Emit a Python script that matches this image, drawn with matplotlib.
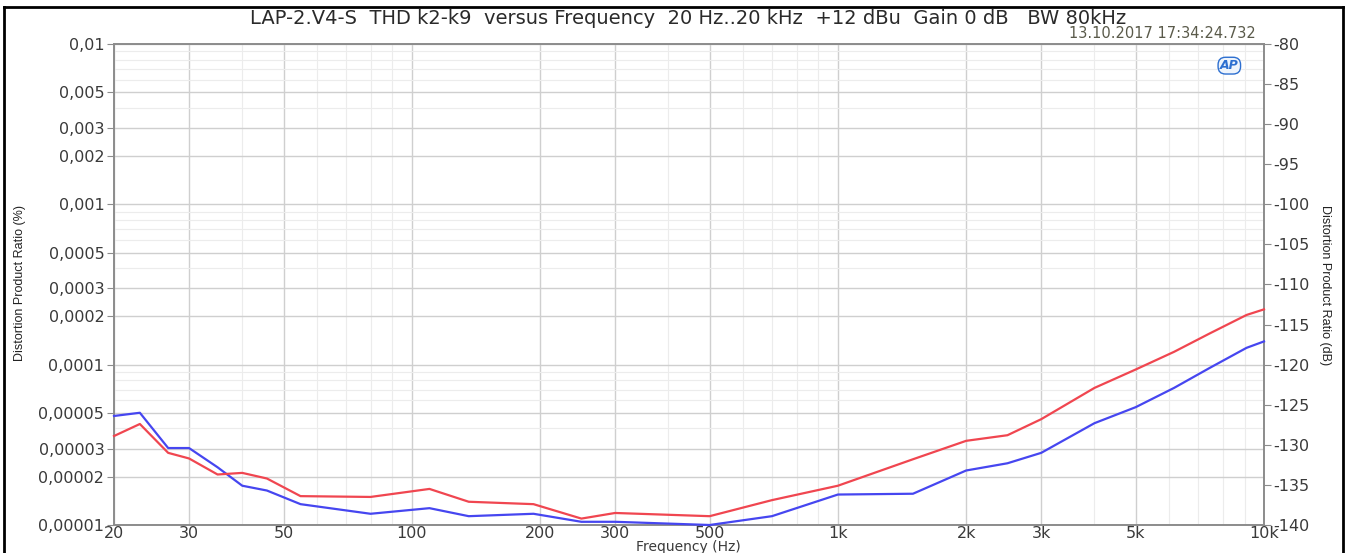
import numpy as np
import matplotlib
matplotlib.use('Agg')
import matplotlib.pyplot as plt
from matplotlib.ticker import FixedLocator, FixedFormatter, NullFormatter
from matplotlib.lines import Line2D

# sweep frequencies (Hz)
freq = [20, 23, 26.8, 30, 35, 40, 45.7, 54.8, 80, 110, 136, 193, 250, 300, 500,
        700, 1000, 1500, 2000, 2500, 3000, 4000, 5000, 6150, 7460, 9100, 10000]

# THD k2-k9 in dB, two channels
blue_db = [-126.4, -126.0, -130.4, -130.4, -132.8, -135.1, -135.7, -137.4, -138.6, -137.9,
           -138.9, -138.6, -139.6, -139.6, -140.0, -138.9, -136.2, -136.1, -133.2, -132.3,
           -131.0, -127.3, -125.3, -122.9, -120.4, -117.9, -117.1]
red_db = [-128.9, -127.4, -131.0, -131.7, -133.7, -133.5, -134.2, -136.4, -136.5, -135.5,
          -137.1, -137.4, -139.2, -138.5, -138.9, -136.9, -135.1, -131.8, -129.5, -128.8,
          -126.8, -122.9, -120.6, -118.4, -116.1, -113.8, -113.1]

x_ticks = [20, 30, 50, 100, 200, 300, 500, 1000, 2000, 3000, 5000, 10000]
x_labels = ['20', '30', '50', '100', '200', '300', '500', '1k', '2k', '3k', '5k', '10k']
y_ticks = [0.01, 0.005, 0.003, 0.002, 0.001, 0.0005, 0.0003, 0.0002, 0.0001,
           0.00005, 0.00003, 0.00002, 0.00001]
y_labels = ['0,01', '0,005', '0,003', '0,002', '0,001', '0,0005', '0,0003', '0,0002',
            '0,0001', '0,00005', '0,00003', '0,00002', '0,00001']
db_ticks = [-80, -85, -90, -95, -100, -105, -110, -115, -120, -125, -130, -135, -140]

title = 'LAP-2.V4-S  THD k2-k9  versus Frequency  20 Hz..20 kHz  +12 dBu  Gain 0 dB   BW 80kHz'
stamp = '13.10.2017 17:34:24.732'

W, H = 1353, 553
fig = plt.figure(figsize=(W / 100, H / 100), dpi=100)
ax = fig.add_axes([114 / W, 1 - 525 / H, 1150 / W, 481 / H])

blue_pct = [100 * 10 ** (d / 20) for d in blue_db]
red_pct = [100 * 10 ** (d / 20) for d in red_db]

ax.plot(freq, blue_pct, color='#4646f0', lw=1.6, zorder=3, clip_on=False)
ax.plot(freq, red_pct, color='#f04650', lw=1.6, zorder=3, clip_on=False)

ax.set_xscale('log')
ax.set_yscale('log')
ax.set_xlim(20, 10000)
ax.set_ylim(0.00001, 0.01)

minor_x = [m * 10 ** e for e in range(1, 5) for m in range(1, 10)]
minor_x = [v for v in minor_x if 20 <= v <= 10000 and v not in x_ticks]
ax.xaxis.set_major_locator(FixedLocator(x_ticks))
ax.xaxis.set_major_formatter(FixedFormatter(x_labels))
ax.xaxis.set_minor_locator(FixedLocator(minor_x))
ax.xaxis.set_minor_formatter(NullFormatter())

minor_y = [m * 10.0 ** e for e in range(-5, -2) for m in range(1, 10)]
minor_y = [v for v in minor_y if not any(abs(v - t) / t < 1e-6 for t in y_ticks)]
ax.yaxis.set_major_locator(FixedLocator(y_ticks))
ax.yaxis.set_major_formatter(FixedFormatter(y_labels))
ax.yaxis.set_minor_locator(FixedLocator(minor_y))
ax.yaxis.set_minor_formatter(NullFormatter())

ax.grid(which='major', color='#cfcfcf', lw=1.0)
ax.grid(which='minor', color='#ececec', lw=0.8)
ax.set_axisbelow(True)

for s in ax.spines.values():
    s.set_color('#8c8c8c')
    s.set_linewidth(1.4)

ax.tick_params(which='major', length=5, color='#8c8c8c', labelsize=11.5,
               labelcolor='#3a3a3a', pad=2)
ax.tick_params(which='minor', length=0)
ax.tick_params(axis='x', length=0, pad=1)

ax2 = ax.twinx()
ax2.set_ylim(-140, -80)
ax2.yaxis.set_major_locator(FixedLocator(db_ticks))
ax2.set_yticklabels([str(t) for t in db_ticks])
ax2.tick_params(length=5, color='#8c8c8c', labelsize=11.5, labelcolor='#3a3a3a', pad=2)
for s in ax2.spines.values():
    s.set_visible(False)

narrow = ['Liberation Sans Narrow', 'Liberation Sans', 'DejaVu Sans']
fig.text(20 / W, 1 - 283 / H, 'Distortion Product Ratio (%)', rotation=90,
         ha='center', va='center', fontsize=9, family=narrow, stretch='condensed',
         color='#222222')
fig.text(1325 / W, 1 - 285 / H, 'Distortion Product Ratio (dB)', rotation=-90,
         ha='center', va='center', fontsize=9, family=narrow, stretch='condensed',
         color='#222222')
fig.text(688 / W, 1 - 547 / H, 'Frequency (Hz)', ha='center', va='center',
         fontsize=10, color='#3a3a3a')

fig.text(688 / W, 1 - 18 / H, title, ha='center', va='center', fontsize=14,
         color='#2a2a2a')
fig.text(1256 / W, 1 - 33 / H, stamp, ha='right', va='center', fontsize=10.5,
         color='#5a5a4a')
ax.text(0.978, 0.955, 'AP', transform=ax.transAxes, ha='right', va='center',
        fontsize=9, fontweight='bold', style='italic', color='#2d6fd0',
        bbox=dict(boxstyle='round,pad=0.15,rounding_size=0.6', fc='#eef4fc',
                  ec='#2d6fd0', lw=1.0))

# outer frame of the screenshot
for xs, ys in [([4, 4], [H, 7]), ([4, 1343], [7, 7]), ([1343, 1343], [7, H])]:
    fig.add_artist(Line2D([x / W for x in xs], [1 - y / H for y in ys],
                          color='black', lw=2, transform=fig.transFigure))

fig.savefig('out.png', dpi=100)
